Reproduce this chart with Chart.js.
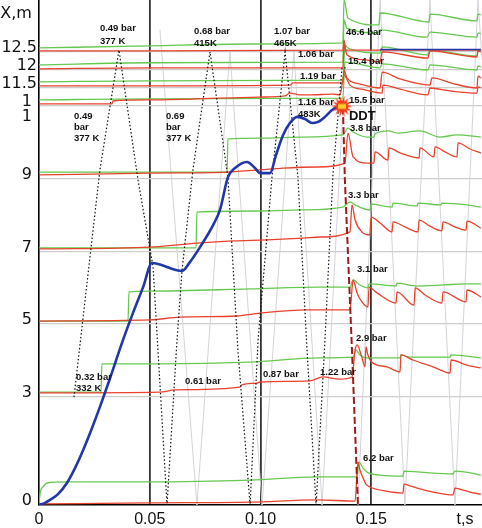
<!DOCTYPE html>
<html><head><meta charset="utf-8">
<script src="https://cdn.jsdelivr.net/npm/chart.js@4.4.0/dist/chart.umd.min.js"></script>
<style>html,body{margin:0;padding:0;background:#fff;}canvas{display:block;}</style>
</head><body>
<canvas id="c" width="482" height="528"></canvas>
<script>
// ---- axes ----
const xTicks = [0, 0.05, 0.10, 0.15, 0.1923];
const xTickLabels = ['0', '0.05', '0.10', '0.15', 't,s'];
const yTicks = [0, 3.0, 5.02, 7.01, 9.04, 10.65, 11.06, 11.56, 12.06, 12.56, 13.5];
const yTickLabels = ['0', '3', '5', '7', '9', '1', '1', '11.5', '12', '12.5', 'X,m'];

// ---- sensor traces [t (s), level] ----
const red9 = [[0,.03],[.0501,.06],[.0953,.08],[.1255,.14],[.1427,.11],[.144,1.19],[.1449,.97],[.1463,.75],[.1476,.58],[.1494,.5],[.1562,.39],[.1643,.33],[.1648,.58],[.1675,.53],[.1707,.47],[.1779,.36],[.1869,.28],[.1878,.47],[.191,.42],[.1946,.36],[.1995,.3]];
const green9 = [[0,0],[.0005,.33],[.0018,.5],[.0036,.61],[.0126,.64],[.0501,.64],[.0953,.69],[.1255,.78],[.1436,.78],[.1445,1.19],[.1463,1.02],[.1481,.91],[.154,.83],[.1643,.8],[.1648,.94],[.172,.91],[.1869,.86],[.1878,.94],[.1946,.89],[.1995,.83]];
const red8 = [[0,3.11],[.0546,3.13],[.0614,3.19],[.0907,3.27],[.0916,3.33],[.0984,3.38],[.0998,3.41],[.1223,3.44],[.1282,3.55],[.1359,3.49],[.1413,3.55],[.1427,4.3],[.1436,4.44],[.1458,4.08],[.1472,3.83],[.1476,4.38],[.1485,4.16],[.1503,3.96],[.1571,3.83],[.163,3.69],[.1634,4.16],[.1688,4.02],[.1779,3.83],[.1856,3.66],[.186,4.02],[.1932,3.88],[.1995,3.8]];
const green8 = [[0,3.13],[.028,3.13],[.0284,3.91],[.0546,3.91],[.0953,3.96],[.1269,4.08],[.1418,4.1],[.1431,4.3],[.1449,4.16],[.1481,4.08],[.163,4.08],[.1634,4.16],[.1675,4.1],[.1856,4.1],[.186,4.16],[.1995,4.08]];
const red7 = [[0,5.1],[.0501,5.13],[.0637,5.21],[.0894,5.24],[.0998,5.32],[.121,5.41],[.1404,5.41],[.1418,6.24],[.1436,5.88],[.1458,5.63],[.1485,5.49],[.149,6.04],[.1526,5.88],[.1612,5.6],[.1616,5.91],[.1693,5.54],[.1698,6.02],[.1743,5.82],[.1819,5.6],[.1824,5.91],[.1928,5.63],[.1932,5.96],[.1995,5.77]];
const green7 = [[0,5.1],[.0402,5.1],[.0406,5.91],[.0501,5.93],[.0953,5.99],[.1269,6.04],[.1404,6.04],[.1418,6.24],[.1449,6.1],[.1485,6.02],[.149,6.13],[.1612,6.07],[.1616,6.15],[.1707,6.07],[.1824,6.1],[.1932,6.13],[.1995,6.13]];
const red6 = [[0,7.1],[.0501,7.15],[.0713,7.26],[.0876,7.32],[.1029,7.35],[.1192,7.4],[.1269,7.43],[.1404,7.57],[.1413,8.32],[.1427,7.9],[.1458,7.57],[.1494,7.49],[.1499,7.98],[.154,7.82],[.1594,7.57],[.1598,7.85],[.1652,7.71],[.1711,7.57],[.1716,7.9],[.1765,7.73],[.1819,7.6],[.1824,7.85],[.1878,7.71],[.1928,7.62],[.1932,7.87],[.1995,7.68]];
const green6 = [[0,7.13],[.0709,7.13],[.0713,8.12],[.0998,8.15],[.1178,8.18],[.1372,8.26],[.1404,8.4],[.1427,8.32],[.1494,8.18],[.1499,8.34],[.1594,8.26],[.1598,8.37],[.1707,8.29],[.1711,8.37],[.1815,8.32],[.1819,8.37],[.1932,8.32],[.1995,8.26]];
const red5 = [[0,9.15],[.0501,9.2],[.0849,9.23],[.0998,9.29],[.1102,9.34],[.1255,9.37],[.1381,9.48],[.1395,10.31],[.1418,9.65],[.1481,9.48],[.1512,9.48],[.1517,9.79],[.1576,9.56],[.158,9.9],[.163,9.76],[.1716,9.62],[.172,9.9],[.1783,9.65],[.1788,9.93],[.1833,9.79],[.1887,9.65],[.1892,10.04],[.1946,9.87],[.1995,9.76]];
const green5 = [[0,9.23],[.0849,9.23],[.0853,10.15],[.0998,10.17],[.1178,10.2],[.1372,10.26],[.1395,10.45],[.1418,10.34],[.1481,10.2],[.1512,10.2],[.1517,10.29],[.158,10.37],[.1616,10.31],[.172,10.37],[.181,10.2],[.1887,10.26],[.1995,10.2]];
const red4 = [[0,11.12],[.033,11.12],[.0334,11.2],[.0501,11.23],[.0998,11.31],[.1111,11.34],[.1133,11.42],[.1178,11.37],[.1223,11.37],[.1327,11.39],[.1359,11.37],[.1377,11.92],[.1404,11.64],[.1472,11.51],[.1549,11.42],[.1553,11.64],[.163,11.53],[.1756,11.37],[.1765,11.56],[.1856,11.48],[.1977,11.42],[.1982,11.59],[.1995,11.56]];
const green4 = [[0,11.23],[.0501,11.26],[.1372,11.28],[.1381,12.28],[.154,12.12],[.1549,12.23],[.1756,12.06],[.1765,12.2],[.1977,12.06],[.1982,12.17],[.1995,12.14]];
const red3 = [[0,11.62],[.0501,11.62],[.1133,11.64],[.1147,11.7],[.1372,11.7],[.1377,12.06],[.139,11.84],[.1449,11.67],[.154,11.56],[.1549,12.0],[.163,11.81],[.1765,11.64],[.1774,11.84],[.1878,11.67],[.1977,11.56],[.1982,11.89],[.1995,11.84]];
const green3 = [[0,11.73],[.0501,11.76],[.1372,11.78],[.1381,12.75],[.1395,12.67],[.154,12.53],[.1549,12.7],[.1756,12.48],[.1765,12.61],[.1977,12.45],[.1982,12.61],[.1995,12.59]];
const red2 = [[0,12.09],[.0501,12.12],[.1372,12.12],[.1377,12.75],[.139,12.48],[.1472,12.34],[.154,12.28],[.1549,12.56],[.1756,12.39],[.1765,12.59],[.1977,12.42],[.1982,12.59],[.1995,12.56]];
const green2 = [[0,12.2],[.0501,12.26],[.1372,12.28],[.1377,13.45],[.139,13.22],[.1531,13.09],[.154,13.17],[.1752,12.97],[.1765,13.11],[.1977,12.97],[.1982,13.09],[.1995,13.06]];
const red1 = [[0,12.59],[.0501,12.59],[.1372,12.61],[.1377,12.89],[.1386,12.61],[.1995,12.61]];
const green1 = [[0,12.67],[.0501,12.73],[.0953,12.78],[.1372,12.81],[.1377,14.0],[.1395,13.5],[.1535,13.31],[.154,13.64],[.1761,13.39],[.1765,13.61],[.1977,13.42],[.1982,13.61],[.1995,13.59]];

// ---- flame front (blue) ----
const flame = [[0,0],[.0027,.06],[.005,.14],[.0086,.3],[.0126,.61],[.0163,1.03],[.0199,1.52],[.0239,2.13],[.0275,2.72],[.0321,3.52],[.0379,4.57],[.0424,5.32],[.047,6.04],[.051,6.71],[.0646,6.49],[.0682,6.74],[.0727,7.15],[.0786,7.76],[.0817,8.18],[.0853,9.09],[.0885,9.34],[.0939,9.51],[.0975,9.34],[.0998,9.2],[.1043,9.2],[.107,9.7],[.1102,10.26],[.1133,10.59],[.1165,10.76],[.1201,10.7],[.1233,10.59],[.126,10.62],[.1291,10.76],[.1323,10.95],[.1345,11.03],[.1368,11.06]];
const flameEnd = [[.154,12.63],[.1995,12.63]];
// ---- shock trajectory (dotted) ----
const shock = [[.0158,2.99],[.0185,4.44],[.0275,9.29],[.0361,12.61],[.0447,9.01],[.0515,6.6],[.0537,4.3],[.0578,0],[.0623,4.57],[.0646,6.52],[.0695,9.29],[.0772,12.56],[.0853,9.09],[.0898,4.3],[.0953,0],[.0989,4.57],[.1052,9.09],[.1111,12.56],[.1169,9.09],[.121,4.3],[.1251,0],[.1291,4.57],[.1327,9.15],[.1368,12.12],[.1395,12.12]];
// ---- detonation (dashed) ----
const deton = [[.1372,11.03],[.1381,9.01],[.1413,4.3],[.144,0]];
// ---- pressure waves (grey) ----
const wavesPre = [[.0546,13.17],[.0713,0],[.0862,12.56],[.1007,0],[.1151,12.56],[.1278,0],[.1372,11.03]];
const wavesPost = [[.144,0],[.154,14],[.1652,0],[.1765,14],[.1878,0],[.1982,14],[.2,12.34]];
const ddtPoint = [[.1368,11.05]];

// ---- text labels [text, t, level] ----
const notes = [
 ['0.49 bar',.0275,13.2],['377 K',.0275,12.86],
 ['0.49',.0158,10.78],['bar',.0158,10.48],['377 K',.0158,10.17],
 ['0.68 bar',.07,13.14],['415K',.07,12.81],
 ['1.07 bar',.1061,13.14],['465K',.1061,12.81],
 ['0.69',.0573,10.78],['bar',.0573,10.48],['377 K',.0573,10.17],
 ['1.06 bar',.1169,12.48],['1.19 bar',.1178,11.87],['1.16 bar',.1169,11.17],['483K',.1169,10.84],
 ['46.6 bar',.1386,13.09],['15.4 bar',.1395,12.31],['15.5 bar',.1399,11.23],
 ['3.8 bar',.1404,10.45],['3.3 bar',.1395,8.57],['3.1 bar',.1436,6.54],['2.9 bar',.1431,4.63],
 ['1.22 bar',.1269,3.69],['6.2 bar',.1463,1.28],
 ['0.32 bar',.0167,3.55],['332 K',.0167,3.24],['0.61 bar',.0659,3.44],['0.87 bar',.1011,3.63]
];
const ddtLabel = ['DDT',.1399,10.78];

const P = a => a.map(p => ({x:p[0], y:p[1]}));
const RED = '#e8412c', GREEN = '#66c94f';

// star marker
const star = document.createElement('canvas');
star.width = 26; star.height = 26;
(function(){
  const g = star.getContext('2d');
  g.translate(13,13);
  g.beginPath();
  const n = 14;
  for (let i = 0; i < 2*n; i++) {
    const r = i % 2 === 0 ? 11 : 5.5;
    const a = i * Math.PI / n;
    g.lineTo(r*Math.cos(a), r*Math.sin(a));
  }
  g.closePath(); g.fillStyle = '#f23a1c'; g.fill();
  g.fillStyle = '#ffcc22'; g.fillRect(-4,-2.5,8,5);
})();

function trace(data, color, order) {
  return {data:P(data), borderColor:color, borderWidth:1.3, pointRadius:0, showLine:true, fill:false,
          cubicInterpolationMode:'monotone', order:order};
}
const datasets = [
  {data:P(ddtPoint), pointStyle:star, pointRadius:12, showLine:false, order:0},
  {data:P(deton), borderColor:'#9c1b1b', borderWidth:2, borderDash:[7,3], pointRadius:0, showLine:true, order:1},
  {data:P(flame), borderColor:'#2237a8', borderWidth:2.6, pointRadius:0, showLine:true, cubicInterpolationMode:'monotone', order:2},
  {data:P(flameEnd), borderColor:'#2237a8', borderWidth:1.5, pointRadius:0, showLine:true, order:2},
  {data:P(shock), borderColor:'#111', borderWidth:1.2, borderDash:[1.5,2.2], pointRadius:0, showLine:true, order:3},
];
[[red1,green1],[red2,green2],[red3,green3],[red4,green4],[red5,green5],[red6,green6],[red7,green7],[red8,green8],[red9,green9]].forEach(([r,g])=>{
  datasets.push(trace(r, RED, 4));
  datasets.push(trace(g, GREEN, 5));
});
datasets.push({data:P(wavesPre), borderColor:'#d3d3da', borderWidth:1, pointRadius:0, showLine:true, order:9});
datasets.push({data:P(wavesPost), borderColor:'#d3d3da', borderWidth:1, pointRadius:0, showLine:true, order:9});

const notePlugin = {
  id:'notes',
  afterDatasetsDraw(chart) {
    const {ctx, scales:{x, y}} = chart;
    ctx.save();
    ctx.fillStyle = '#111'; ctx.textAlign = 'left'; ctx.textBaseline = 'middle';
    ctx.font = 'bold 9.5px "Liberation Sans", Arial, sans-serif';
    notes.forEach(n => ctx.fillText(n[0], x.getPixelForValue(n[1]), y.getPixelForValue(n[2])));
    ctx.font = 'bold 13px "Liberation Sans", Arial, sans-serif';
    ctx.fillText(ddtLabel[0], x.getPixelForValue(ddtLabel[1]), y.getPixelForValue(ddtLabel[2]));
    ctx.restore();
  }
};

new Chart(document.getElementById('c'), {
  type:'scatter',
  data:{datasets},
  options:{
    responsive:false, animation:false, devicePixelRatio:1,
    layout:{padding:0, autoPadding:false},
    plugins:{legend:{display:false}, tooltip:{enabled:false}},
    scales:{
      x:{
        type:'linear', min:0, max:0.2,
        afterBuildTicks:s=>{ s.ticks = xTicks.map(v=>({value:v})); },
        afterFit:s=>{ s.height = 23; s.paddingLeft = 0; s.paddingRight = 0; },
        ticks:{autoSkip:false, maxRotation:0, padding:5, color:'#111',
               font:{family:'"Liberation Sans", Arial, sans-serif', size:16},
               callback:(v,i)=>xTickLabels[i]},
        grid:{drawTicks:false, lineWidth:1.8,
              color:c=>(c.index>=1 && c.index<=3) ? '#333' : 'rgba(0,0,0,0)'},
        border:{color:'#000', width:1.6}
      },
      y:{
        type:'linear', min:0, max:14,
        afterBuildTicks:s=>{ s.ticks = yTicks.map(v=>({value:v})); },
        afterFit:s=>{ s.width = 39; s.paddingTop = 0; s.paddingBottom = 0; },
        ticks:{autoSkip:false, padding:2, labelOffset:-4, color:'#111',
               font:{family:'"DejaVu Sans", sans-serif', size:16},
               callback:(v,i)=>{ const l = yTickLabels[i]; return (l.length === 1 || l === 'X,m') ? l + ' ' : l; }},
        grid:{drawTicks:false, lineWidth:1.3,
              color:c=>(c.index === 0 || c.index === 5 || c.index === 10) ? 'rgba(0,0,0,0)' : '#cdcdcd'},
        border:{color:'#000', width:1.6}
      }
    }
  },
  plugins:[notePlugin]
});
</script>
</body></html>
